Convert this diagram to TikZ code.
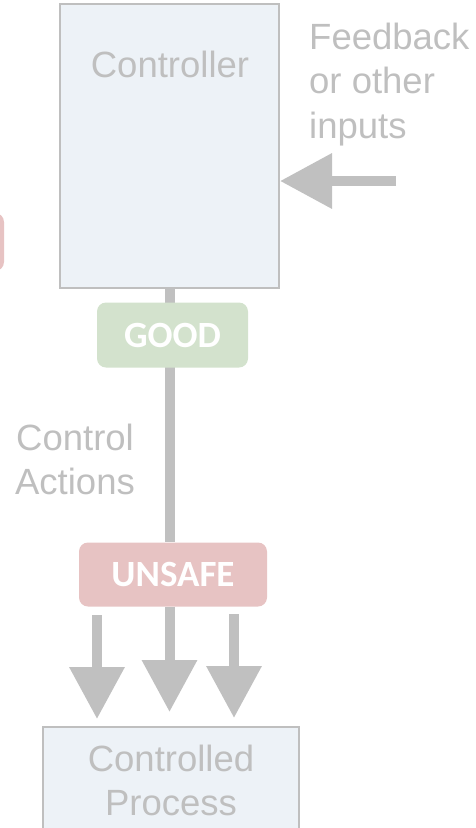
\documentclass[tikz,border=0pt]{standalone}
\usepackage{fontspec}
\setmainfont{Liberation Sans}
\newfontfamily\tagfont{Carlito}
\usetikzlibrary{arrows.meta,backgrounds}
\definecolor{boxfill}{HTML}{EDF2F7}
\definecolor{boxline}{HTML}{BFBFBF}
\definecolor{txtgray}{HTML}{BFBFBF}
\definecolor{arrowgray}{HTML}{C0C0C0}
\definecolor{goodfill}{HTML}{D3E2CD}
\definecolor{unsafefill}{HTML}{E7C3C3}
\begin{document}
\begin{tikzpicture}[x=1pt,y=-1pt,
  lbl/.style={text=txtgray, font=\fontsize{36.5}{44.5}\selectfont, inner sep=0pt},
  box/.style={draw=boxline, line width=2pt, fill=boxfill, inner sep=0pt},
  tag/.style={rounded corners=9pt, inner sep=0pt, text=white, font=\tagfont\bfseries\fontsize{37}{40}\selectfont},
  bigarrow/.style={draw=arrowgray, line width=10pt, -{Triangle[length=52pt,width=53pt]}},
  shaft/.style={draw=arrowgray, line width=10pt}]
\useasboundingbox (0,0) rectangle (475,828);

% partially visible tag at the left edge
\node[tag, fill=unsafefill, minimum width=60pt, minimum height=58pt] (side) at (-26,242) {};

% controller
\node[box, minimum width=219pt, minimum height=284pt] (ctrl) at (169.5,146) {};
\node[lbl, anchor=base] (ctrltxt) at (170,77) {Controller};

% feedback input
\node[lbl, align=left, anchor=north west] (fbtxt) at (309,22.5) {Feedback\\or other\\inputs};
\coordinate (fbin) at (396,181);
\draw[bigarrow] (fbin) -- (ctrl.east |- fbin);

% tags
\node[tag, fill=goodfill, minimum width=151pt, minimum height=65pt] (good) at (172.5,335) {GOOD};
\node[tag, fill=unsafefill, minimum width=188pt, minimum height=64pt] (unsafe) at (173,574.5) {UNSAFE};

\node[lbl, align=center, anchor=north] (catxt) at (75,423.5) {Control\\Actions};

% controlled process
\node[box, minimum width=256pt, minimum height=200pt] (proc) at (171,827) {};
\node[lbl, align=center, anchor=north] (proctxt) at (171,744.5) {Controlled\\Process};

\begin{scope}[on background layer]
  \draw[shaft] (ctrl.south) -- (ctrl.south |- unsafe.north);
  \draw[bigarrow, shorten >=14pt] (ctrl.south |- unsafe.south) -- (ctrl.south |- proc.north);
\end{scope}

\coordinate (aleft) at (97,615);
\coordinate (aright) at (234,614);
\draw[bigarrow, shorten >=7pt] (aleft) -- (aleft |- proc.north);
\draw[bigarrow, shorten >=8pt] (aright) -- (aright |- proc.north);
\end{tikzpicture}
\end{document}
